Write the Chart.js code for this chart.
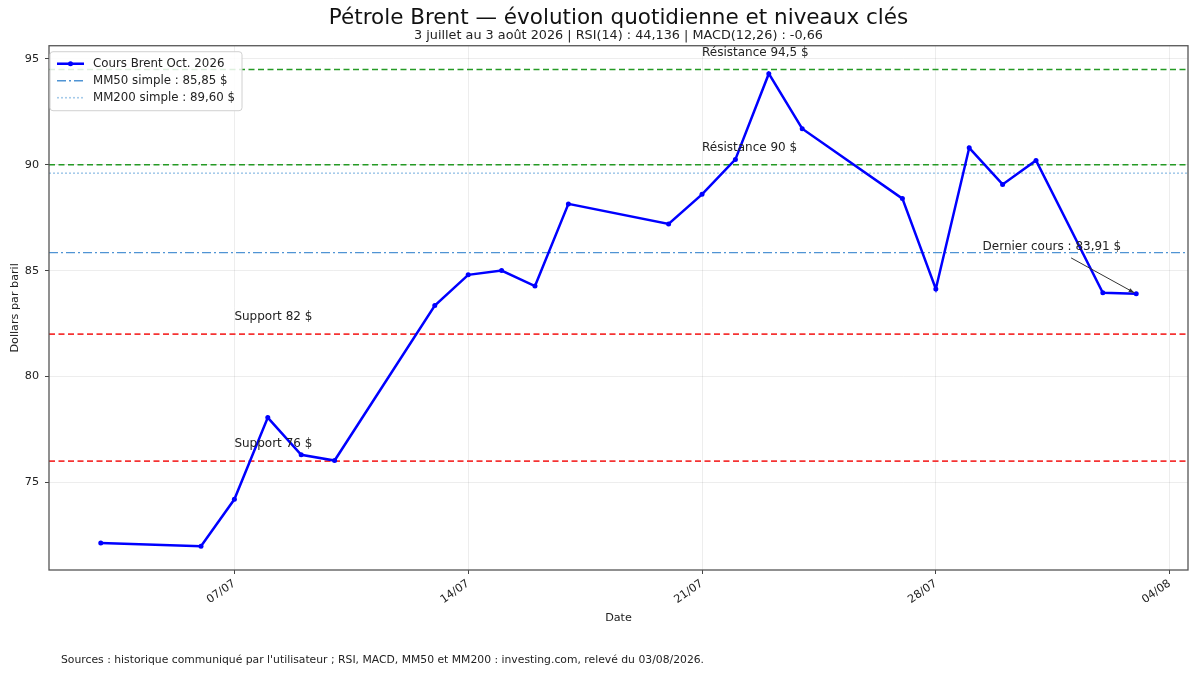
<!DOCTYPE html>
<html lang="fr">
<head>
<meta charset="utf-8">
<title>Pétrole Brent — évolution quotidienne</title>
<script src="https://cdn.jsdelivr.net/npm/chart.js@4.4.1/dist/chart.umd.min.js"></script>
<style>
    html, body { margin: 0; padding: 0; background: #fff; }
    #wrap { position: relative; width: 1200px; height: 675px; }
    #sources {
        position: absolute; left: 61px; top: 653px;
        font: 10.8px "DejaVu Sans", sans-serif; color: #222; white-space: nowrap;
    }
</style>
</head>
<body>
<div id="wrap">
    <canvas id="brentChart"></canvas>
    <div id="sources">Sources : historique communiqué par l'utilisateur ; RSI, MACD, MM50 et MM200 : investing.com, relevé du 03/08/2026.</div>
</div>
<script>
// Cours relevés (jour = nombre de jours depuis le 30/06/2026)
const dayLabels = ['03/07', '06/07', '07/07', '08/07', '09/07', '10/07', '13/07', '14/07', '15/07', '16/07', '17/07',
    '20/07', '21/07', '22/07', '23/07', '24/07', '27/07', '28/07', '29/07', '30/07', '31/07', '02/08', '03/08'];
const dayIndex = [3, 6, 7, 8, 9, 10, 13, 14, 15, 16, 17, 20, 21, 22, 23, 24, 27, 28, 29, 30, 31, 33, 34];
const brentPrices = [72.13, 71.98, 74.2, 78.06, 76.3, 76.03, 83.35, 84.8, 85.0, 84.27, 88.15,
    87.2, 88.6, 90.25, 94.3, 91.7, 88.4, 84.13, 90.8, 89.07, 90.2, 83.95, 83.91];

// Graduations
const tickDays = [7, 14, 21, 28, 35];
const tickLabels = ['07/07', '14/07', '21/07', '28/07', '04/08'];
const priceTicks = [75, 80, 85, 90, 95];

// Niveaux clés
const levelNames = ['Résistance 94,5 $', 'Résistance 90 $', 'Support 82 $', 'Support 76 $'];
const levelValues = [94.5, 90, 82, 76];
const levelNoteDays = [21, 21, 7, 7];
const mm50 = 85.85;
const mm200 = 89.60;

// Bornes des axes (marges de 5 %)
const xMin = 1.45, xMax = 35.55;
const yMin = 70.86, yMax = 95.62;

const FONT = '"DejaVu Sans", sans-serif';
const GREEN = '#259a25';
const RED = '#f53333';

const hLine = v => [{ x: xMin, y: v }, { x: xMax, y: v }];

const datasets = [
    {
        label: 'Cours Brent Oct. 2026',
        data: dayIndex.map((d, i) => ({ x: d, y: brentPrices[i] })),
        borderColor: '#0000ff',
        backgroundColor: '#0000ff',
        borderWidth: 2.5,
        pointRadius: 2.5,
        pointBorderWidth: 0,
        tension: 0
    },
    {
        label: 'MM50 simple : 85,85 $',
        data: hLine(mm50),
        borderColor: '#4f94d4',
        borderWidth: 1.4,
        borderDash: [9, 3, 2, 3],
        pointRadius: 0
    },
    {
        label: 'MM200 simple : 89,60 $',
        data: hLine(mm200),
        borderColor: '#a6cbea',
        borderWidth: 1.6,
        borderDash: [2, 2],
        pointRadius: 0
    }
];

levelValues.forEach((v, i) => {
    datasets.push({
        label: levelNames[i],
        data: hLine(v),
        borderColor: i < 2 ? GREEN : RED,
        borderWidth: 1.6,
        borderDash: [6, 3.5],
        pointRadius: 0
    });
});

// Cadre complet autour de la zone de tracé
const framePlugin = {
    id: 'frame',
    afterDatasetsDraw(chart) {
        const { ctx, chartArea: a } = chart;
        ctx.save();
        ctx.strokeStyle = '#555';
        ctx.lineWidth = 1.3;
        ctx.strokeRect(a.left, a.top, a.right - a.left, a.bottom - a.top);
        ctx.restore();
    }
};

// Textes des niveaux et dernier cours
const notesPlugin = {
    id: 'notes',
    afterDatasetsDraw(chart) {
        const { ctx, scales: { x, y } } = chart;
        ctx.save();
        ctx.font = '12px ' + FONT;
        ctx.fillStyle = '#222';
        ctx.textBaseline = 'middle';
        ctx.textAlign = 'left';
        levelValues.forEach((v, i) => {
            ctx.fillText(levelNames[i], x.getPixelForValue(levelNoteDays[i]), y.getPixelForValue(v + 0.8));
        });

        const last = brentPrices.length - 1;
        const lastTxt = 'Dernier cours : ' + brentPrices[last].toFixed(2).replace('.', ',') + ' $';
        ctx.fillText(lastTxt, x.getPixelForValue(29.4), y.getPixelForValue(86.1));

        // flèche
        const x0 = x.getPixelForValue(32.05), y0 = y.getPixelForValue(85.6);
        const x1 = x.getPixelForValue(dayIndex[last]) - 2, y1 = y.getPixelForValue(brentPrices[last]) - 1;
        const ang = Math.atan2(y1 - y0, x1 - x0);
        ctx.strokeStyle = '#333';
        ctx.fillStyle = '#333';
        ctx.lineWidth = 1;
        ctx.beginPath();
        ctx.moveTo(x0, y0);
        ctx.lineTo(x1, y1);
        ctx.stroke();
        ctx.beginPath();
        ctx.moveTo(x1, y1);
        ctx.lineTo(x1 - 6 * Math.cos(ang - 0.35), y1 - 6 * Math.sin(ang - 0.35));
        ctx.lineTo(x1 - 6 * Math.cos(ang + 0.35), y1 - 6 * Math.sin(ang + 0.35));
        ctx.closePath();
        ctx.fill();
        ctx.restore();
    }
};

// Légende dans le coin supérieur gauche
const innerLegend = {
    id: 'innerLegend',
    afterDraw(chart) {
        const { ctx, chartArea: a } = chart;
        const bx = a.left + 1, by = a.top + 6, bw = 192, bh = 59;
        ctx.save();
        ctx.fillStyle = 'rgba(255,255,255,0.85)';
        ctx.strokeStyle = '#d0d0d0';
        ctx.lineWidth = 1;
        ctx.beginPath();
        ctx.roundRect(bx, by, bw, bh, 3);
        ctx.fill();
        ctx.stroke();

        ctx.font = '11.8px ' + FONT;
        ctx.textBaseline = 'middle';
        chart.data.datasets.slice(0, 3).forEach((ds, i) => {
            const yy = by + 12 + i * 17;
            ctx.strokeStyle = ds.borderColor;
            ctx.lineWidth = ds.borderWidth;
            ctx.setLineDash(ds.borderDash || []);
            ctx.beginPath();
            ctx.moveTo(bx + 7, yy);
            ctx.lineTo(bx + 34, yy);
            ctx.stroke();
            ctx.setLineDash([]);
            if (ds.pointRadius) {
                ctx.fillStyle = ds.borderColor;
                ctx.beginPath();
                ctx.arc(bx + 20.5, yy, ds.pointRadius, 0, Math.PI * 2);
                ctx.fill();
            }
            ctx.fillStyle = '#222';
            ctx.fillText(ds.label, bx + 43, yy);
        });
        ctx.restore();
    }
};

new Chart(document.getElementById('brentChart'), {
    type: 'line',
    data: { datasets: datasets },
    plugins: [framePlugin, notesPlugin, innerLegend],
    options: {
        responsive: true,
        maintainAspectRatio: false,
        animation: false,
        layout: { padding: { left: 0, right: 12, top: 0, bottom: 40 } },
        plugins: {
            legend: { display: false },
            tooltip: { enabled: false },
            title: {
                display: true,
                fullSize: false,
                text: 'Pétrole Brent — évolution quotidienne et niveaux clés',
                color: '#111',
                font: { family: FONT, size: 21.5, weight: 'normal', lineHeight: 0.95 },
                padding: { top: 8.5, bottom: 0 }
            },
            subtitle: {
                display: true,
                fullSize: false,
                text: '3 juillet au 3 août 2026 | RSI(14) : 44,136 | MACD(12,26) : -0,66',
                color: '#222',
                font: { family: FONT, size: 12.8, lineHeight: 1.0 },
                padding: { top: 0, bottom: 4 }
            }
        },
        scales: {
            x: {
                type: 'linear',
                min: xMin,
                max: xMax,
                afterFit(scale) { scale.height = 65; },
                afterBuildTicks(scale) { scale.ticks = tickDays.map(v => ({ value: v })); },
                ticks: {
                    autoSkip: false,
                    minRotation: 35,
                    maxRotation: 35,
                    padding: 3,
                    color: '#222',
                    font: { family: FONT, size: 11.2 },
                    callback: (v) => tickLabels[tickDays.indexOf(v)]
                },
                grid: { color: 'rgba(0,0,0,0.07)', tickColor: '#444', tickLength: 4 },
                border: { display: false },
                title: {
                    display: true,
                    text: 'Date',
                    color: '#222',
                    font: { family: FONT, size: 11.2 },
                    padding: { top: 0, bottom: 10 }
                }
            },
            y: {
                min: yMin,
                max: yMax,
                afterFit(scale) { scale.width = 49; },
                afterBuildTicks(scale) { scale.ticks = priceTicks.map(v => ({ value: v })); },
                ticks: {
                    padding: 6,
                    color: '#222',
                    font: { family: FONT, size: 11.2 }
                },
                grid: { color: 'rgba(0,0,0,0.07)', tickColor: '#444', tickLength: 4 },
                border: { display: false },
                title: {
                    display: true,
                    text: 'Dollars par baril',
                    color: '#222',
                    font: { family: FONT, size: 11.2 },
                    padding: { top: 8, bottom: 0 }
                }
            }
        }
    }
});
</script>
</body>
</html>
